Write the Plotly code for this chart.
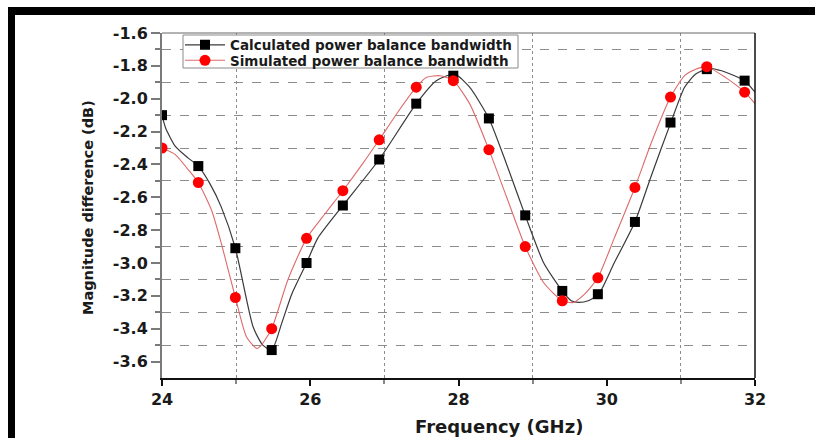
import plotly.graph_objects as go

# Sampled frequencies (GHz) for the markers
freq_pts = [24.00, 24.49, 24.99, 25.48, 25.95, 26.44, 26.93, 27.43, 27.93,
            28.41, 28.90, 29.40, 29.88, 30.38, 30.86, 31.35, 31.86]
calc_pts = [-2.10, -2.41, -2.91, -3.53, -3.00, -2.65, -2.37, -2.03, -1.86,
            -2.12, -2.71, -3.17, -3.19, -2.75, -2.145, -1.82, -1.89]
sim_pts = [-2.30, -2.51, -3.21, -3.40, -2.85, -2.56, -2.25, -1.93, -1.89,
           -2.31, -2.90, -3.23, -3.09, -2.54, -1.99, -1.805, -1.96]

# Continuous curves
calc_curve_x = [24.00, 24.05, 24.18, 24.35, 24.49, 24.65, 24.80, 24.99, 25.23,
                25.36, 25.48, 25.62, 25.75, 25.95, 26.10, 26.44, 26.93, 27.43,
                27.70, 27.95, 28.15, 28.41, 28.65, 28.90, 29.15, 29.40, 29.52,
                29.62, 29.75, 29.89, 30.10, 30.38, 30.60, 30.86, 31.05, 31.20,
                31.38, 31.55, 31.86, 32.00]
calc_curve_y = [-2.10, -2.18, -2.29, -2.36, -2.41, -2.52, -2.66, -2.91, -3.39,
                -3.50, -3.53, -3.36, -3.19, -3.00, -2.85, -2.65, -2.37, -2.03,
                -1.89, -1.85, -1.93, -2.12, -2.40, -2.71, -3.00, -3.17, -3.23,
                -3.24, -3.23, -3.19, -3.00, -2.75, -2.47, -2.15, -1.93, -1.85,
                -1.815, -1.83, -1.89, -1.96]

sim_curve_x = [24.00, 24.18, 24.35, 24.49, 24.67, 24.80, 24.99, 25.14, 25.28,
               25.34, 25.48, 25.70, 25.95, 26.20, 26.44, 26.70, 26.93, 27.20,
               27.43, 27.57, 27.75, 27.93, 28.15, 28.41, 28.65, 28.90, 29.15,
               29.40, 29.55, 29.70, 29.88, 30.10, 30.38, 30.60, 30.86, 31.05,
               31.20, 31.35, 31.60, 31.86, 32.00]
sim_curve_y = [-2.30, -2.34, -2.43, -2.51, -2.68, -2.88, -3.21, -3.45, -3.52,
               -3.50, -3.40, -3.10, -2.85, -2.70, -2.56, -2.40, -2.25, -2.07,
               -1.93, -1.87, -1.86, -1.89, -2.03, -2.31, -2.60, -2.90, -3.12,
               -3.23, -3.24, -3.19, -3.09, -2.85, -2.54, -2.27, -1.99, -1.86,
               -1.82, -1.805, -1.87, -1.96, -2.03]

x_ticks = [24, 26, 28, 30, 32]
y_ticks = [-1.6, -1.8, -2.0, -2.2, -2.4, -2.6, -2.8, -3.0, -3.2, -3.4, -3.6]
y_tick_text = ["%.1f" % v for v in y_ticks]

W, H = 815, 438
ML, MR, MT, MB = 162, 60, 33, 60
PW, PH = W - ML - MR, H - MT - MB


def px(p):
    return (p - ML) / PW


def py(p):
    return 1 - (p - MT) / PH


BOLD = dict(family="DejaVu Sans", weight="bold", color="#1a1a1a")

fig = go.Figure()

fig.add_trace(go.Scatter(
    x=calc_curve_x, y=calc_curve_y, mode="lines",
    line=dict(color="#3a3a3a", width=1.2, shape="spline", smoothing=0.6),
    showlegend=False, hoverinfo="skip"))
fig.add_trace(go.Scatter(
    x=sim_curve_x, y=sim_curve_y, mode="lines",
    line=dict(color="#dd6a6a", width=1.1, shape="spline", smoothing=0.6),
    showlegend=False, hoverinfo="skip"))

fig.add_trace(go.Scatter(
    x=freq_pts, y=calc_pts, mode="markers",
    marker=dict(symbol="square", size=10, color="#000000"),
    showlegend=False))
fig.add_trace(go.Scatter(
    x=freq_pts, y=sim_pts, mode="markers",
    marker=dict(symbol="circle", size=11, color="#ff0000"),
    showlegend=False))

# Legend entries (line + marker), one compact legend row each
fig.add_trace(go.Scatter(
    x=[None], y=[None], mode="lines+markers",
    name="Calculated power balance bandwidth", legend="legend",
    line=dict(color="#3a3a3a", width=1.2),
    marker=dict(symbol="square", size=10, color="#000000")))
fig.add_trace(go.Scatter(
    x=[None], y=[None], mode="lines+markers",
    name="Simulated power balance bandwidth", legend="legend2",
    line=dict(color="#dd6a6a", width=1.1),
    marker=dict(symbol="circle", size=11, color="#ff0000")))

legend_style = dict(xanchor="left", yanchor="middle",
                    bgcolor="rgba(0,0,0,0)", borderwidth=0,
                    font=dict(size=13.5, **BOLD), itemwidth=40)

fig.update_layout(
    width=W, height=H,
    margin=dict(l=ML, r=MR, t=MT, b=MB, pad=0),
    paper_bgcolor="white", plot_bgcolor="white",
    showlegend=True,
    legend=dict(x=px(180), y=py(45), **legend_style),
    legend2=dict(x=px(180), y=py(60.5), **legend_style),
    xaxis=dict(
        range=[24, 32], tickvals=x_ticks, ticktext=[str(v) for v in x_ticks],
        showgrid=False, zeroline=False,
        showline=True, linecolor="#111", linewidth=1.5,
        ticks="outside", ticklen=6, tickwidth=1.5, tickcolor="#111",
        tickfont=dict(size=16, **BOLD),
        minor=dict(tickvals=[25, 27, 29, 31], ticks="outside", ticklen=4,
                   tickcolor="#888", showgrid=True, gridcolor="#8c8c8c",
                   griddash="dot", gridwidth=1)),
    yaxis=dict(
        range=[-3.7, -1.6], tickvals=y_ticks, ticktext=y_tick_text,
        showgrid=False, zeroline=False,
        showline=True, linecolor="#7a7a7a", linewidth=2,
        ticks="outside", ticklen=9, tickwidth=1.5, tickcolor="#7a7a7a",
        tickfont=dict(size=16, **BOLD),
        minor=dict(tickvals=[-1.7, -1.9, -2.1, -2.3, -2.5, -2.7, -2.9,
                             -3.1, -3.3, -3.5],
                   ticks="outside", ticklen=5, tickcolor="#7a7a7a",
                   showgrid=True, gridcolor="#8c8c8c", griddash="dash",
                   gridwidth=1)),
)

# Legend box
fig.add_shape(type="rect", xref="paper", yref="paper", layer="above",
              x0=px(183), x1=px(518), y0=py(35), y1=py(68),
              fillcolor="white", line=dict(color="#8a8a8a", width=1))

# Plot frame (top and right edges)
fig.add_shape(type="line", xref="paper", yref="paper", x0=0, x1=1, y0=1, y1=1,
              line=dict(color="#666", width=1))
fig.add_shape(type="line", xref="paper", yref="paper", x0=1, x1=1, y0=0, y1=1,
              line=dict(color="#111", width=1.5))

# Black border around the page
fig.add_shape(type="line", xref="paper", yref="paper",
              x0=px(8), x1=px(815), y0=py(11), y1=py(11),
              line=dict(color="black", width=8))
fig.add_shape(type="line", xref="paper", yref="paper",
              x0=px(11.5), x1=px(11.5), y0=py(7), y1=py(440),
              line=dict(color="black", width=7))

# Axis titles
fig.add_annotation(text="Frequency (GHz)", xref="paper", yref="paper",
                   x=px(499), y=py(426), showarrow=False,
                   xanchor="center", yanchor="middle",
                   font=dict(size=18, **BOLD))
fig.add_annotation(text="Magnitude difference (dB)", xref="paper", yref="paper",
                   x=px(88), y=py(208), showarrow=False, textangle=-90,
                   xanchor="center", yanchor="middle",
                   font=dict(size=14.5, **BOLD))

fig.write_html("out.html")
